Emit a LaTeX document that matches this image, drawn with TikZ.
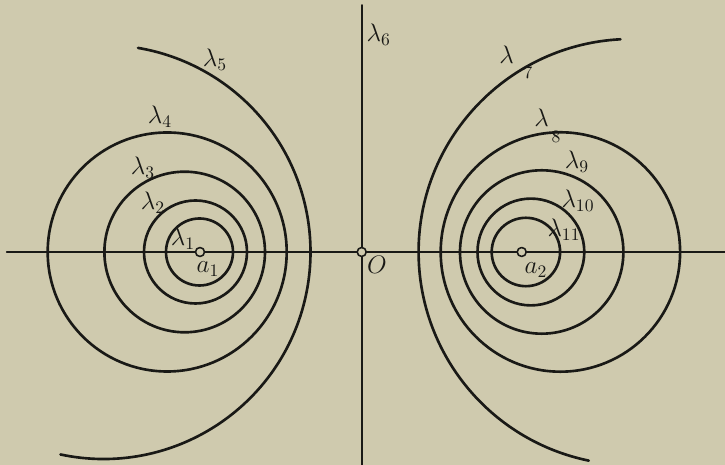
\documentclass[tikz,border=0pt]{standalone}
\definecolor{paper}{RGB}{207,202,174}
\definecolor{ink}{RGB}{25,25,22}
\begin{document}
\begin{tikzpicture}[x=0.02cm,y=0.02cm,font=\Large,line join=round,line cap=round,
  curve/.style={line width=1.5pt,ink},
  axis/.style={line width=1pt,ink},
  pt/.style={circle,draw=ink,line width=0.9pt,fill=paper,inner sep=0pt,minimum size=0.18cm},
  lab/.style={inner sep=1pt,text=ink}]
\fill[paper] (-361.7,-213) rectangle (363.3,252);
\useasboundingbox (-361.7,-213) rectangle (363.3,252);
% axes
\coordinate (xl) at (-355,0); \coordinate (xr) at (363.3,0);
\coordinate (yt) at (0,247); \coordinate (yb) at (0,-213);
\draw[axis] (xl)--(xr) (yb)--(yt);
% circles round a1 and a2
\foreach \c/\r in {-162.2/33.5,-166.2/51.5,-177/80.3,-194.5/119.5,164.2/34.2,169.2/53.4,180/81.7,198.7/119.7}
  \draw[curve] (\c,0) circle (\r);
\draw[curve] (-258.2,0) ++(-102:207) arc[start angle=-102,end angle=80.4,radius=207];
\draw[curve] (269.9,0) ++(93:213) arc[start angle=93,end angle=258.4,radius=213];
% points
\node[pt] (O) at (0,0) {};
\node[pt] (a1) at (-161.7,0) {};
\node[pt] (a2) at (160,0) {};
% labels
\node[lab] (Olab) at (15.3,-13) {$O$};
\node[lab] (a1lab) at (-153.7,-17) {$a_1$};
\node[lab] (a2lab) at (174.3,-18) {$a_2$};
\node[lab] (l1) at (-178.7,13) {$\lambda_1$};
\node[lab] (l2) at (-208.7,49) {$\lambda_2$};
\node[lab] (l3) at (-218.7,84) {$\lambda_3$};
\node[lab] (l4) at (-201.7,135) {$\lambda_4$};
\node[lab] (l5) at (-146.7,192) {$\lambda_5$};
\node[lab] (l6) at (17,217) {$\lambda_6$};
\node[lab] (l7) at (145,197) {$\lambda$};
\node[lab] (l7s) at (166.3,179) {$\scriptstyle 7$};
\node[lab] (l8) at (180,134) {$\lambda$};
\node[lab] (l8s) at (194.3,115.3) {$\scriptstyle 8$};
\node[lab] (l9) at (215.3,90) {$\lambda_9$};
\node[lab] (l10) at (216.3,51) {$\lambda_{10}$};
\node[lab] (l11) at (202.3,22) {$\lambda_{11}$};
\end{tikzpicture}
\end{document}
